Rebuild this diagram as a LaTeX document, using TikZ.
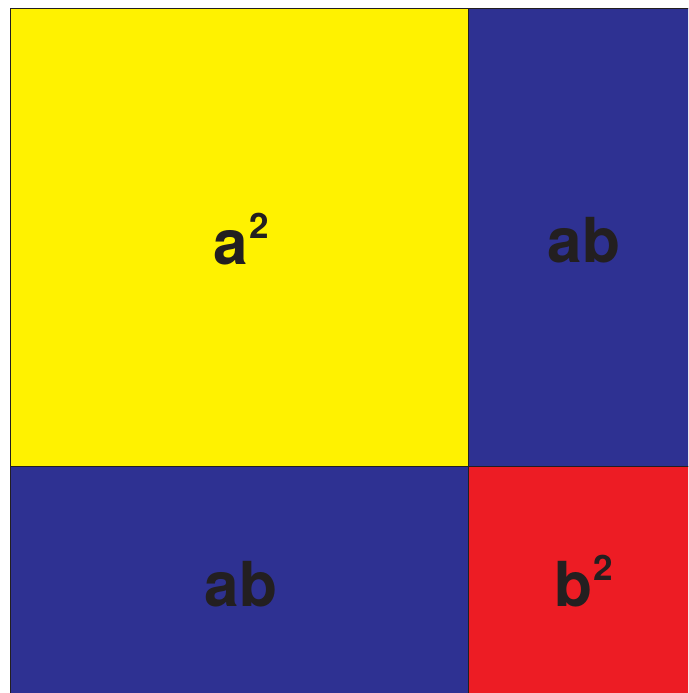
\documentclass[tikz,border=0pt]{standalone}
\usepackage{fontspec}
\setmainfont{TeX Gyre Heros}
\definecolor{ylw}{HTML}{FFF200}
\definecolor{blu}{HTML}{2E3192}
\definecolor{rd}{HTML}{ED1C24}
\definecolor{ink}{HTML}{231F20}
\tikzset{
  cell/.style={draw=ink, line width=1pt},
  lbl/.style={text=ink, font=\bfseries\fontsize{62}{62}\selectfont, anchor=base, inner sep=0pt},
}
\newcommand{\sq}{\raisebox{26pt}{\fontsize{35}{35}\selectfont\bfseries 2}}
\begin{document}
\begin{tikzpicture}[x=1pt,y=-1pt]
\useasboundingbox (0,0) rectangle (688,693);
\clip (0,0) rectangle (688,693);
\fill[white] (0,0) rectangle (688,693);
\filldraw[cell, fill=ylw] (10.5,8.5) rectangle (468,466);
\filldraw[cell, fill=blu] (468,8.5) rectangle (720,466);
\filldraw[cell, fill=blu] (10.5,466) rectangle (468,720);
\filldraw[cell, fill=rd] (468,466) rectangle (720,720);
\node[lbl] (asq) at (241,264) {a\kern1pt\sq};
\node[lbl] (ab1) at (584,262) {ab};
\node[lbl] (ab2) at (241,606) {ab};
\node[lbl] (bsq) at (584,606) {b\kern1pt\sq};
\end{tikzpicture}
\end{document}
